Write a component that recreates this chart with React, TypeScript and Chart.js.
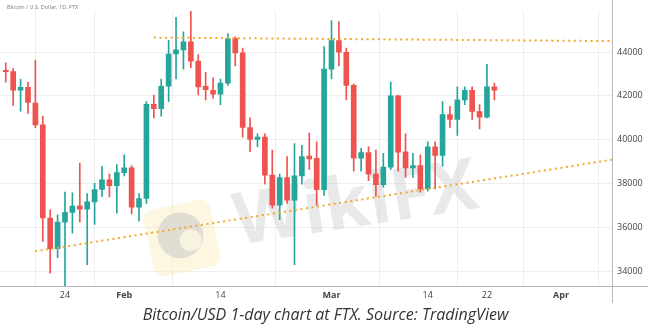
import React, { useEffect, useRef } from 'react';
import { Chart, registerables } from 'chart.js';

Chart.register(...registerables);

// ---- data ----
const dates = [
  'Jan 16', 'Jan 17', 'Jan 18', 'Jan 19', 'Jan 20', 'Jan 21', 'Jan 22', 'Jan 23', 'Jan 24', 'Jan 25',
  'Jan 26', 'Jan 27', 'Jan 28', 'Jan 29', 'Jan 30', 'Jan 31', 'Feb 1', 'Feb 2', 'Feb 3', 'Feb 4',
  'Feb 5', 'Feb 6', 'Feb 7', 'Feb 8', 'Feb 9', 'Feb 10', 'Feb 11', 'Feb 12', 'Feb 13', 'Feb 14',
  'Feb 15', 'Feb 16', 'Feb 17', 'Feb 18', 'Feb 19', 'Feb 20', 'Feb 21', 'Feb 22', 'Feb 23', 'Feb 24',
  'Feb 25', 'Feb 26', 'Feb 27', 'Feb 28', 'Mar 1', 'Mar 2', 'Mar 3', 'Mar 4', 'Mar 5', 'Mar 6',
  'Mar 7', 'Mar 8', 'Mar 9', 'Mar 10', 'Mar 11', 'Mar 12', 'Mar 13', 'Mar 14', 'Mar 15', 'Mar 16',
  'Mar 17', 'Mar 18', 'Mar 19', 'Mar 20', 'Mar 21', 'Mar 22', 'Mar 23',
];
const opens = [
  43170, 43110, 42260, 42390, 41670, 40680, 36430, 35030, 36240, 36690,
  36990, 36830, 37170, 37730, 38170, 37910, 38500, 38720, 36920, 37320,
  41620, 41420, 42440, 43910, 44100, 44470, 43590, 42440, 42260, 42080,
  42580, 44620, 43960, 40560, 40020, 40120, 38390, 37020, 38280, 37240,
  38350, 39250, 39150, 37720, 43220, 44520, 43990, 42480, 39160, 39410,
  38430, 37950, 38750, 42000, 39450, 38720, 38820, 37760, 39680, 39280,
  41150, 40930, 41820, 42260, 41290, 41030, 42410,
];
const highs = [
  43510, 43250, 42770, 42630, 43630, 41080, 36800, 36580, 37610, 37580,
  38940, 37540, 38010, 38790, 38430, 38870, 39310, 38820, 37540, 41740,
  42040, 42770, 44540, 45580, 44920, 45870, 43880, 43070, 42820, 42770,
  44840, 44690, 44180, 41000, 40270, 40270, 39530, 38430, 39230, 39830,
  39750, 40300, 39900, 44250, 45430, 45390, 44180, 42550, 39610, 39680,
  39530, 39380, 42630, 42040, 40270, 39380, 39310, 39900, 39900, 41740,
  41520, 42410, 42410, 42410, 41600, 43440, 42580,
];
const lows = [
  42630, 41570, 41300, 41200, 40550, 35360, 33920, 34620, 33000, 35740,
  36240, 34300, 36140, 37410, 37390, 36650, 38350, 36620, 36290, 37100,
  41000, 41080, 41740, 42770, 43220, 43290, 42040, 41820, 41890, 41600,
  42480, 43370, 40120, 39460, 39680, 37980, 36880, 36360, 37100, 34300,
  37980, 38650, 37020, 37460, 42770, 43370, 41820, 38570, 38570, 38130,
  37420, 37840, 38650, 38570, 38280, 38280, 37610, 37660, 37760, 38790,
  40560, 40200, 41600, 40930, 40490, 41000, 41820,
];
const closes = [
  43110, 42260, 42390, 41700, 40680, 36430, 35030, 36240, 36690, 36980,
  36830, 37170, 37730, 38170, 37910, 38500, 38720, 36920, 37320, 41620,
  41420, 42440, 43910, 44100, 44470, 43590, 42410, 42290, 42080, 42580,
  44620, 43960, 40560, 40020, 40120, 38390, 37020, 38280, 37240, 38350,
  39230, 39130, 37720, 43220, 44520, 43990, 42480, 39160, 39410, 38430,
  37950, 38750, 42000, 39430, 38720, 38820, 37760, 39680, 39280, 41150,
  40930, 41820, 42260, 41290, 41030, 42410, 42260,
];

const yTicks = [34000, 36000, 38000, 40000, 42000, 44000];
const xTickDates = ['Jan 24', 'Feb 1', 'Feb 14', 'Mar 1', 'Mar 14', 'Mar 22', 'Apr 1'];
const xTickLabels = ['24', 'Feb', '14', 'Mar', '14', '22', 'Apr'];
const monthTicks = ['Feb', 'Mar', 'Apr'];

// trend lines (day-of-year, price)
const resistanceDays = [36.0, 97.9];
const resistanceValues = [44660, 44500];
const supportDays = [19.95, 97.9];
const supportValues = [34910, 39090];

const xRange = [15.22, 97.89];
const yRange = [33330, 45900];

const titleText = 'Bitcoin / U.S. Dollar, 1D, FTX';
const captionText = 'Bitcoin/USD 1-day chart at FTX. Source: TradingView';
const watermarkText = 'WikiFX';

const UP = '#26a69a';
const DOWN = '#ef5350';

const monthOffset: Record<string, number> = { Jan: 0, Feb: 31, Mar: 59, Apr: 90 };
const dayOf = (label: string) => {
  const [m, d] = label.split(' ');
  return monthOffset[m] + Number(d);
};

const framePlugin = {
  id: 'frame',
  beforeDatasetsDraw(chart: any) {
    const ctx = chart.ctx as CanvasRenderingContext2D;
    ctx.save();
    // logo tile
    ctx.translate(182, 238);
    ctx.rotate((-12 * Math.PI) / 180);
    ctx.fillStyle = 'rgba(250, 238, 190, 0.45)';
    const s = 68;
    const r = 10;
    ctx.beginPath();
    ctx.moveTo(-s / 2 + r, -s / 2);
    ctx.arcTo(s / 2, -s / 2, s / 2, s / 2, r);
    ctx.arcTo(s / 2, s / 2, -s / 2, s / 2, r);
    ctx.arcTo(-s / 2, s / 2, -s / 2, -s / 2, r);
    ctx.arcTo(-s / 2, -s / 2, s / 2, -s / 2, r);
    ctx.closePath();
    ctx.fill();
    ctx.fillStyle = 'rgba(200, 200, 200, 0.55)';
    ctx.beginPath();
    ctx.arc(-1, -3, 23, 0, Math.PI * 2);
    ctx.fill();
    ctx.fillStyle = 'rgba(250, 245, 225, 0.9)';
    ctx.beginPath();
    ctx.arc(8, 4, 11, 0, Math.PI * 2);
    ctx.fill();
    ctx.restore();

    ctx.save();
    ctx.translate(356, 206);
    ctx.rotate((-8.7 * Math.PI) / 180);
    ctx.font = 'bold 72px "Open Sans"';
    ctx.textAlign = 'center';
    ctx.textBaseline = 'middle';
    ctx.fillStyle = 'rgba(200, 200, 200, 0.4)';
    ctx.fillText(watermarkText, 0, 0);
    ctx.restore();
  },
  afterDraw(chart: any) {
    const ctx = chart.ctx as CanvasRenderingContext2D;
    const { chartArea } = chart;
    ctx.save();
    ctx.strokeStyle = '#b8b8b8';
    ctx.lineWidth = 1;
    ctx.beginPath();
    const by = Math.round(chartArea.bottom) + 0.5;
    const rx = Math.round(chartArea.right) + 0.5;
    ctx.moveTo(0, by);
    ctx.lineTo(648, by);
    ctx.moveTo(rx, 0);
    ctx.lineTo(rx, 303);
    ctx.stroke();
    ctx.restore();
  },
};

export default function App() {
  const ref = useRef<HTMLCanvasElement | null>(null);

  useEffect(() => {
    if (!ref.current) return;
    const xs = dates.map(dayOf);
    const colors = opens.map((o, i) => (closes[i] >= o ? UP : DOWN));
    const tickDays = xTickDates.map(dayOf);

    const chart = new Chart(ref.current, {
      type: 'bar',
      data: {
        datasets: [
          {
            type: 'line',
            data: resistanceDays.map((d, i) => ({ x: d, y: resistanceValues[i] })),
            borderColor: '#f0a92a',
            borderWidth: 2,
            borderDash: [2, 3.6],
            pointRadius: 0,
            fill: false,
            order: 0,
          } as any,
          {
            type: 'line',
            data: supportDays.map((d, i) => ({ x: d, y: supportValues[i] })),
            borderColor: '#f0a92a',
            borderWidth: 2,
            borderDash: [2, 3.6],
            pointRadius: 0,
            fill: false,
            order: 0,
          } as any,
          {
            type: 'bar',
            data: xs.map((x, i) => ({ x, y: [opens[i], closes[i]] })),
            backgroundColor: colors,
            borderWidth: 0,
            barThickness: 5,
            grouped: false,
            order: 1,
          } as any,
          {
            type: 'bar',
            data: xs.map((x, i) => ({ x, y: [lows[i], highs[i]] })),
            backgroundColor: colors,
            borderWidth: 0,
            barThickness: 1,
            grouped: false,
            order: 2,
          } as any,
        ],
      },
      options: {
        animation: false,
        responsive: false,
        maintainAspectRatio: false,
        devicePixelRatio: 1,
        layout: { padding: 0 },
        plugins: {
          legend: { display: false },
          tooltip: { enabled: false },
          title: { display: false },
        },
        scales: {
          x: {
            type: 'linear',
            min: xRange[0],
            max: xRange[1],
            offset: false,
            afterBuildTicks: (scale: any) => {
              scale.ticks = tickDays.map((v) => ({ value: v }));
            },
            afterFit: (scale: any) => {
              scale.height = 47;
            },
            grid: { color: '#eeeeee', drawTicks: false, lineWidth: 1 },
            border: { display: false },
            ticks: {
              autoSkip: false,
              maxRotation: 0,
              padding: 4,
              color: '#444444',
              font: (ctx: any) => {
                const idx = tickDays.indexOf(ctx.tick ? ctx.tick.value : -1);
                const lbl = idx >= 0 ? xTickLabels[idx] : '';
                return {
                  family: '"Open Sans"',
                  size: 9,
                  weight: monthTicks.includes(lbl) ? 'bold' : 'normal',
                };
              },
              callback: (value: any) => {
                const idx = tickDays.indexOf(Number(value));
                return idx >= 0 ? xTickLabels[idx] : '';
              },
            },
          },
          y: {
            type: 'linear',
            position: 'right',
            min: yRange[0],
            max: yRange[1],
            afterBuildTicks: (scale: any) => {
              scale.ticks = yTicks.map((v) => ({ value: v }));
            },
            afterFit: (scale: any) => {
              scale.width = 39;
            },
            grid: { color: '#eeeeee', drawTicks: false, lineWidth: 1 },
            border: { display: false },
            ticks: {
              padding: 5,
              color: '#444444',
              font: { family: '"Open Sans"', size: 9 },
              callback: (value: any) => String(value),
            },
          },
        },
      },
      plugins: [framePlugin],
    });
    return () => chart.destroy();
  }, []);

  return (
    <div style={{ position: 'fixed', left: 0, top: 0, width: 651, height: 333, background: '#ffffff' }}>
      <canvas ref={ref} width={651} height={333} style={{ display: 'block', width: 651, height: 333 }} />
      <div
        style={{
          position: 'absolute',
          left: 7,
          top: 3,
          fontFamily: '"Open Sans", sans-serif',
          fontSize: 5.5,
          lineHeight: '8px',
          color: '#7a7a7a',
          whiteSpace: 'nowrap',
        }}
      >
        {titleText}
      </div>
      <div
        style={{
          position: 'absolute',
          left: 0,
          top: 303,
          width: 651,
          textAlign: 'center',
          fontFamily: '"Open Sans", sans-serif',
          fontStyle: 'italic',
          fontSize: 16,
          lineHeight: '22px',
          color: '#333333',
          whiteSpace: 'nowrap',
        }}
      >
        {captionText}
      </div>
    </div>
  );
}
